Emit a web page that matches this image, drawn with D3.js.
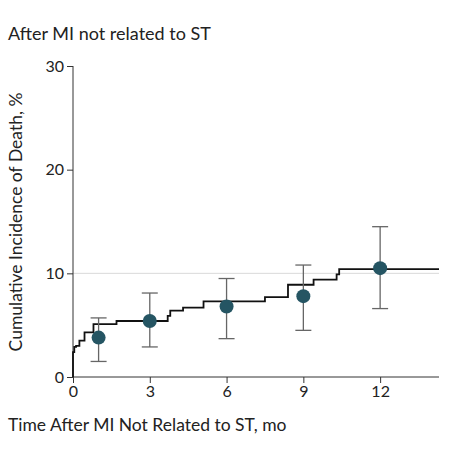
<!DOCTYPE html><html><head><script src="https://cdn.jsdelivr.net/npm/d3@7"></script>
<style>body{margin:0;background:#fff}text{font-family:Lato,"Open Sans",sans-serif}</style></head><body><svg id="c" width="450" height="450"></svg><script>
const stepT=[0,0.05,0.12,0.25,0.45,0.8,1.7,3.7,3.8,4.3,5.1,7.5,8.4,9.4,10.3,10.4,11.0,14.3];
const stepV=[0.6,2.4,2.9,3.0,3.5,4.3,5.1,5.4,5.9,6.4,6.7,7.3,7.7,8.9,9.4,9.9,10.4,10.4];
const ptT=[1,3,6,9,12];
const ptV=[3.8,5.4,6.8,7.8,10.5];
const ciLo=[1.5,2.9,3.7,4.5,6.6];
const ciHi=[5.7,8.1,9.5,10.8,14.5];
const xTicks=[0,3,6,9,12], yTicks=[0,10,20,30];
const svg=d3.select("#c");
const x=d3.scaleLinear().domain([0,14.3]).range([73,439]);
const y=d3.scaleLinear().domain([0,30]).range([377,66]);
svg.append("line").attr("x1",73).attr("x2",439).attr("y1",y(10)).attr("y2",y(10)).attr("stroke","#d9d9d9");
const ya=svg.append("g").attr("transform","translate(73,0)").call(d3.axisLeft(y).tickValues(yTicks).tickSize(6).tickSizeOuter(0));
const xa=svg.append("g").attr("transform","translate(0,377)").call(d3.axisBottom(x).tickValues(xTicks).tickSize(6).tickSizeOuter(0));
[ya,xa].forEach(a=>{a.selectAll("path,line").attr("stroke","#333");a.selectAll("text").attr("font-size",16).attr("fill","#222")});
ya.select(".domain").attr("d","M0,377V66");xa.select(".domain").attr("d","M73,0H439");
const steps=stepT.map((t,i)=>[t,stepV[i]]);
svg.append("path").datum([[0,0],...steps]).attr("fill","none").attr("stroke","#111").attr("stroke-width",1.8)
 .attr("d",d3.line().x(d=>x(d[0])).y(d=>y(d[1])).curve(d3.curveStepBefore));
const g=svg.append("g");
ptT.forEach((t,i)=>{
 g.append("line").attr("x1",x(t)).attr("x2",x(t)).attr("y1",y(ciLo[i])).attr("y2",y(ciHi[i])).attr("stroke","#666").attr("stroke-width",1.3);
 [ciLo[i],ciHi[i]].forEach(v=>g.append("line").attr("x1",x(t)-8).attr("x2",x(t)+8).attr("y1",y(v)).attr("y2",y(v)).attr("stroke","#666").attr("stroke-width",1.3));
 g.append("circle").attr("cx",x(t)).attr("cy",y(ptV[i])).attr("r",7).attr("fill","#255563");
});
svg.append("text").attr("x",8).attr("y",40).attr("font-size",18).attr("fill","#222").text("After MI not related to ST");
svg.append("text").attr("x",8).attr("y",431).attr("font-size",17.5).attr("fill","#222").text("Time After MI Not Related to ST, mo");
svg.append("text").attr("transform","translate(22,222) rotate(-90)").attr("text-anchor","middle").attr("font-size",17.5).attr("fill","#222").text("Cumulative Incidence of Death, %");
</script></body></html>
